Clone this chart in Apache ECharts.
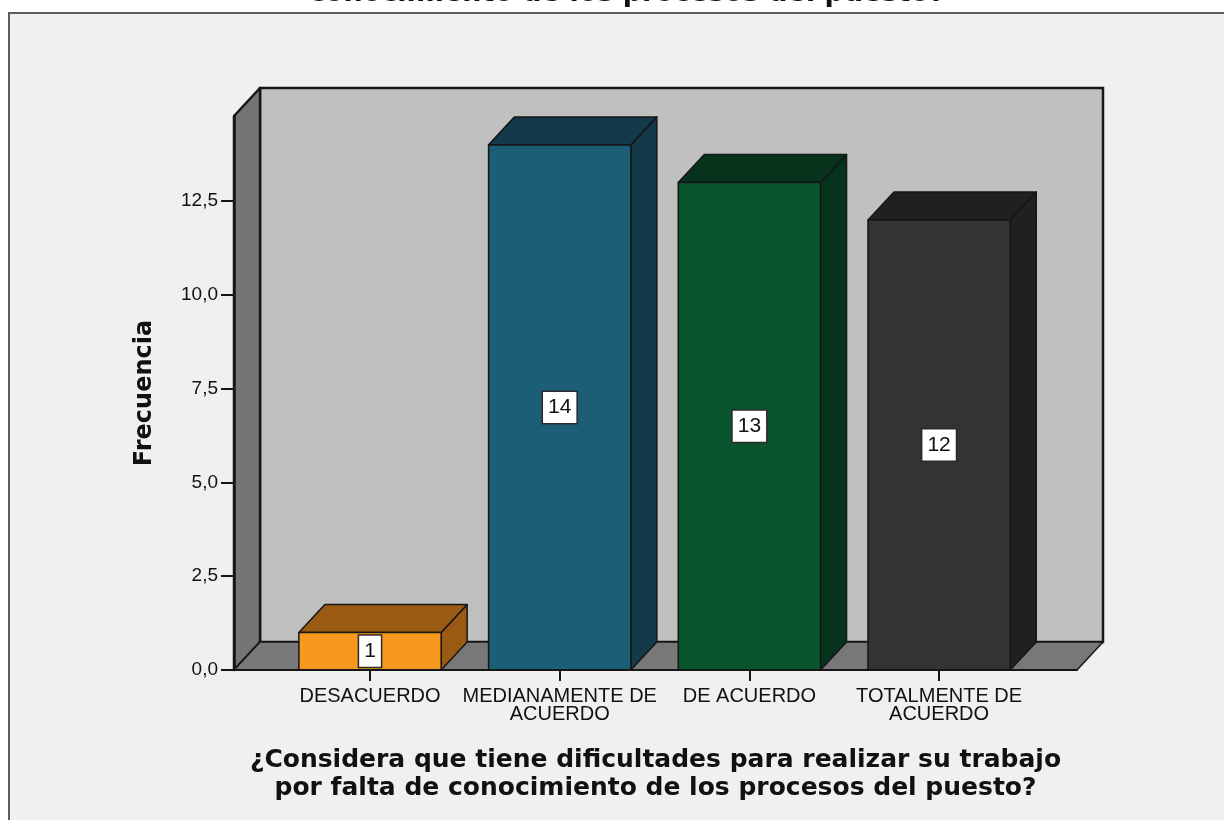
<!DOCTYPE html>
<html>
<head>
<meta charset="utf-8">
<script src="https://cdn.jsdelivr.net/npm/echarts@6/dist/echarts.min.js"></script>
<style>
  html, body { margin: 0; padding: 0; background: #ffffff; }
  #chart { width: 1224px; height: 820px; }
</style>
</head>
<body>
<div id="chart"></div>
<script>
// Response categories and their frequencies
const categories = ['DESACUERDO', 'MEDIANAMENTE DE\nACUERDO', 'DE ACUERDO', 'TOTALMENTE DE\nACUERDO'];
const frequencies = [1, 14, 13, 12];
const frontColors = ['#f7991f', '#1c5e76', '#0a552e', '#333333'];
const shadeColors = ['#9a5a12', '#123a49', '#07331d', '#202020'];
const yTicks = [0, 2.5, 5, 7.5, 10, 12.5];
const xTicks = [0, 1, 2, 3];

// Axis extents and 3D depth offset of the box
const X_MIN = -0.717, X_MAX = 3.727, Y_MAX = 14.77;
const DEPTH = [26, -28];
const BAR_HALF = 0.375;
const EDGE = '#161616';

const chart = echarts.init(document.getElementById('chart'));

function renderWalls(params, api) {
  const o = api.coord([X_MIN, 0]);
  const r = api.coord([X_MAX, 0]);
  const t = api.coord([X_MIN, Y_MAX]);
  const [dx, dy] = DEPTH;
  return {
    type: 'group',
    children: [
      { type: 'rect',
        shape: { x: o[0] + dx, y: t[1] + dy, width: r[0] - o[0], height: o[1] - t[1] },
        style: { fill: '#c0c0c0', stroke: EDGE, lineWidth: 2.5 } },
      { type: 'polygon',
        shape: { points: [[o[0], o[1]], [t[0], t[1]], [t[0] + dx, t[1] + dy], [o[0] + dx, o[1] + dy]] },
        style: { fill: '#757575', stroke: EDGE, lineWidth: 2.5, lineJoin: 'round' } },
      { type: 'polygon',
        shape: { points: [[o[0], o[1]], [o[0] + dx, o[1] + dy], [r[0] + dx, r[1] + dy], [r[0], r[1]]] },
        style: { fill: '#787878', stroke: EDGE, lineWidth: 1.5, lineJoin: 'round' } }
    ]
  };
}

function renderBar(params, api) {
  const i = api.value(0);
  const v = api.value(1);
  const bl = api.coord([i - BAR_HALF, 0]);
  const tr = api.coord([i + BAR_HALF, v]);
  const mid = api.coord([i, v / 2]);
  const [dx, dy] = DEPTH;
  const x0 = bl[0], x1 = tr[0], y0 = bl[1], y1 = tr[1];
  const shade = shadeColors[params.dataIndex];
  const front = frontColors[params.dataIndex];
  const edge = { stroke: EDGE, lineWidth: 1.5, lineJoin: 'round' };
  return {
    type: 'group',
    children: [
      { type: 'polygon',
        shape: { points: [[x1, y0], [x1 + dx, y0 + dy], [x1 + dx, y1 + dy], [x1, y1]] },
        style: Object.assign({ fill: shade }, edge) },
      { type: 'polygon',
        shape: { points: [[x0, y1], [x0 + dx, y1 + dy], [x1 + dx, y1 + dy], [x1, y1]] },
        style: Object.assign({ fill: shade }, edge) },
      { type: 'rect',
        shape: { x: x0, y: y1, width: x1 - x0, height: y0 - y1 },
        style: Object.assign({ fill: front }, edge) },
      { type: 'text', x: mid[0], y: mid[1], z2: 10,
        style: {
          text: String(v), align: 'center', verticalAlign: 'middle',
          font: '21px "Liberation Sans", Arial, sans-serif', fill: '#111',
          backgroundColor: '#ffffff', borderColor: '#2a2a2a', borderWidth: 1.5,
          padding: [5, 5, 5, 5]
        } }
    ]
  };
}

const option = {
  backgroundColor: '#ffffff',
  animation: false,
  graphic: [
    { type: 'rect', z: -10, silent: true,
      shape: { x: 9, y: 13, width: 1240, height: 830 },
      style: { fill: '#f0f0f0', stroke: '#5c5c5c', lineWidth: 2 } },
    { type: 'text', z: -5, left: 309, top: -20,
      style: { text: 'conocimiento de los procesos del puesto?',
        font: 'bold 27px "DejaVu Sans", sans-serif', fill: '#111' } }
  ],
  grid: { left: 234, right: 147, top: 116, bottom: 150 },
  xAxis: {
    type: 'value', min: X_MIN, max: X_MAX, z: 5,
    splitLine: { show: false },
    axisLine: { show: true, onZero: false, lineStyle: { color: EDGE, width: 2 } },
    axisTick: { show: true, customValues: xTicks, length: 11, lineStyle: { color: EDGE, width: 2 } },
    axisLabel: {
      customValues: xTicks, margin: 17,
      formatter: v => categories[Math.round(v)] || '',
      fontFamily: '"Liberation Sans", Arial, sans-serif', fontSize: 20, lineHeight: 18, color: '#111'
    },
    name: '¿Considera que tiene dificultades para realizar su trabajo\npor falta de conocimiento de los procesos del puesto?',
    nameLocation: 'middle', nameGap: 76,
    nameTextStyle: { fontFamily: '"DejaVu Sans", sans-serif', fontWeight: 'bold', fontSize: 25, lineHeight: 28, color: '#111' }
  },
  yAxis: {
    type: 'value', min: 0, max: Y_MAX, z: 5,
    splitLine: { show: false },
    axisLine: { show: true, onZero: false, lineStyle: { color: EDGE, width: 2.5 } },
    axisTick: { show: true, customValues: yTicks, length: 13, lineStyle: { color: EDGE, width: 2 } },
    axisLabel: {
      customValues: yTicks, margin: 16,
      formatter: v => v.toFixed(1).replace('.', ','),
      fontFamily: '"Liberation Sans", Arial, sans-serif', fontSize: 19, color: '#111'
    },
    name: 'Frecuencia', nameLocation: 'middle', nameGap: 77,
    nameTextStyle: { fontFamily: '"DejaVu Sans", sans-serif', fontWeight: 'bold', fontSize: 24, color: '#111' }
  },
  series: [
    { type: 'custom', z: 1, silent: true, renderItem: renderWalls, data: [[X_MIN, 0]] },
    { type: 'custom', z: 2, silent: true, renderItem: renderBar,
      data: frequencies.map((f, i) => [i, f]) }
  ]
};

chart.setOption(option);
</script>
</body>
</html>
